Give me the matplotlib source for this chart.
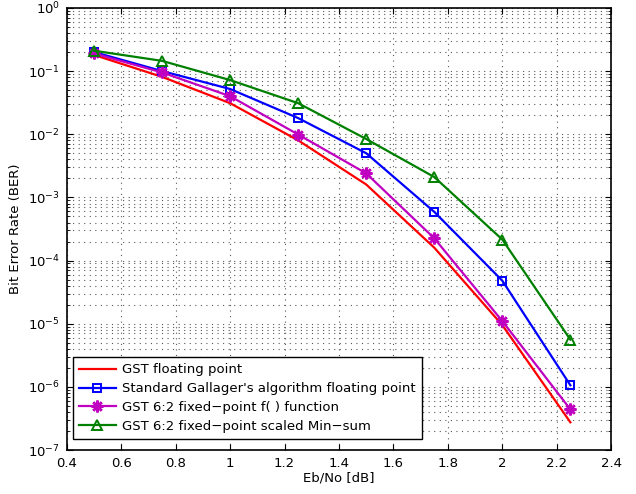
import matplotlib
matplotlib.use("Agg")
import numpy as np
import matplotlib.pyplot as plt

ebno = [0.5, 0.75, 1.0, 1.25, 1.5, 1.75, 2.0, 2.25]

ber_gst_float = [0.18, 0.081, 0.031, 0.008, 0.0016, 1.6e-4, 9.5e-6, 2.75e-7]
ber_gallager = [0.2, 0.1, 0.052, 0.018, 0.005, 5.9e-4, 4.8e-5, 1.06e-6]
ber_gst_ff = [0.19, 0.095, 0.04, 0.0099, 0.0024, 2.25e-4, 1.1e-5, 4.4e-7]
ber_gst_minsum = [0.21, 0.145, 0.072, 0.031, 0.0084, 0.0021, 2.15e-4, 5.6e-6]

xticks = [0.4, 0.6, 0.8, 1.0, 1.2, 1.4, 1.6, 1.8, 2.0, 2.2, 2.4]
xticklabels = ['0.4', '0.6', '0.8', '1', '1.2', '1.4', '1.6', '1.8', '2', '2.2', '2.4']
ydecades = [-7, -6, -5, -4, -3, -2, -1, 0]

labels = ["GST floating point",
          "Standard Gallager's algorithm floating point",
          "GST 6:2 fixed\u2212point f( ) function",
          "GST 6:2 fixed\u2212point scaled Min\u2212sum"]

plt.rcParams['font.family'] = ['DejaVu Sans']
fig = plt.figure(figsize=(6.36, 4.94), dpi=100)
ax = fig.add_axes([0.105, 0.089, 0.856, 0.895])

ax.semilogy(ebno, ber_gst_float, color='red', lw=1.6, label=labels[0])
ax.semilogy(ebno, ber_gallager, color='blue', lw=1.6, marker='s', ms=5.5,
            mfc='none', mew=1.4, label=labels[1])
ax.semilogy(ebno, ber_gst_ff, color='#c000c0', lw=1.6, marker=(8, 2, 0), ms=8.5,
            mew=1.8, label=labels[2])
ax.semilogy(ebno, ber_gst_minsum, color='green', lw=1.6, marker='^', ms=7,
            mfc='none', mew=1.4, label=labels[3])

ax.set_xlim(0.4, 2.4)
ax.set_ylim(1e-7, 1)
ax.set_xticks(xticks)
ax.set_xticklabels(xticklabels)
ax.set_yticks([10.0 ** d for d in ydecades])
ax.set_yticklabels(['$10^{%d}$' % d for d in ydecades])
minor = [m * 10.0 ** d for d in ydecades[:-1] for m in range(2, 10)]
ax.set_yticks(minor, minor=True)
ax.set_yticklabels([], minor=True)

ax.tick_params(which='both', direction='in', top=True, right=True, labelsize=9.5)
ax.tick_params(which='major', length=4, pad=5)
ax.tick_params(which='minor', length=2)
ax.grid(True, which='both', axis='y', linestyle=(0, (1, 4)), color='0.35', lw=0.8)
ax.grid(True, which='major', axis='x', linestyle=(0, (1, 4)), color='0.35', lw=0.8)
for s in ax.spines.values():
    s.set_linewidth(1.2)

ax.set_xlabel('Eb/No [dB]', fontsize=9.5, labelpad=1)
ax.set_ylabel('Bit Error Rate (BER)', fontsize=9.5, labelpad=4)

leg = ax.legend(loc='lower left', bbox_to_anchor=(0.011, 0.025), borderaxespad=0,
                fontsize=9.5, fancybox=False, framealpha=1, edgecolor='black',
                handlelength=2.8, labelspacing=0.45, borderpad=0.45,
                handletextpad=0.5)
leg.get_frame().set_linewidth(1.0)

fig.savefig('out.png', dpi=100)
